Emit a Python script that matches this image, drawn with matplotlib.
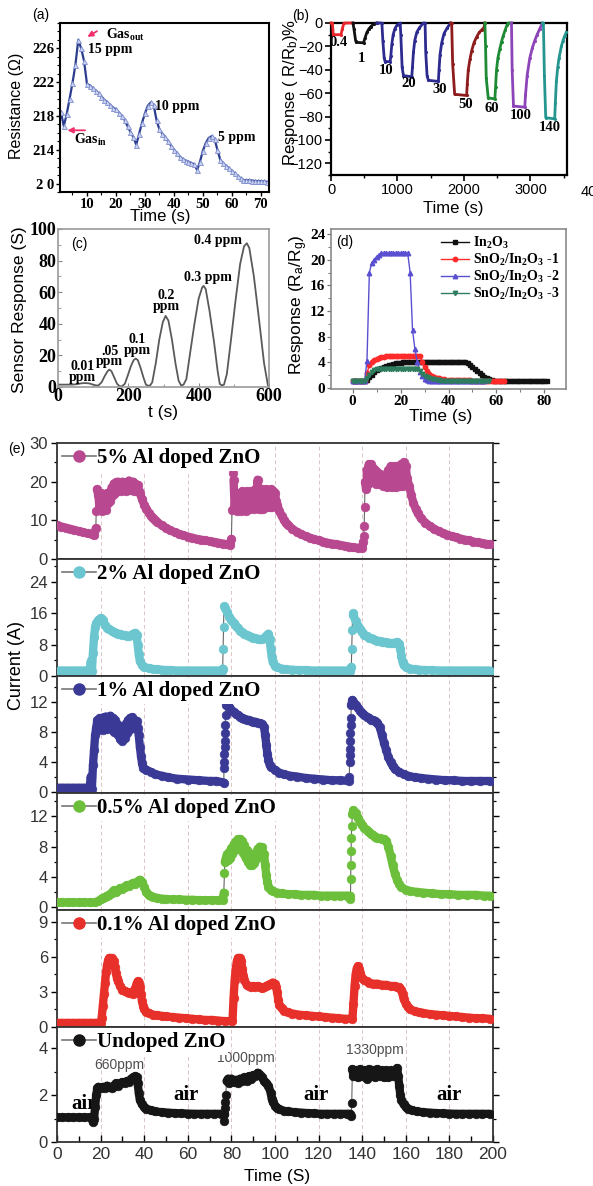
import matplotlib
matplotlib.use('Agg')
import matplotlib.pyplot as plt
import matplotlib.transforms as mtransforms
from matplotlib import font_manager
from matplotlib.lines import Line2D
from matplotlib.ticker import MultipleLocator


# ---------------- (a) resistance trace, 1 s sampling ----------------
A_TIME = list(range(1, 74))
A_RES = [218.5, 216.8, 218.2, 220.0, 221.9, 224.0, 227.0, 226.0, 224.5, 221.8,
         221.6, 221.3, 221.0, 220.7, 220.3, 219.9, 219.6, 219.3, 219.0, 218.8,
         218.4, 218.0, 217.5, 216.8, 216.1, 215.5, 214.6, 215.9, 217.2, 218.3,
         219.2, 219.6, 219.3, 217.5, 216.4, 215.9, 215.5, 215.0, 214.5, 214.0,
         213.6, 213.2, 212.9, 212.7, 212.6, 212.4, 212.3, 211.6, 212.6, 213.9,
         214.8, 215.4, 215.6, 215.3, 214.0, 212.8, 212.4, 212.1, 211.8, 211.5,
         211.2, 210.9, 210.6, 210.4, 210.4, 210.4, 210.35, 210.3, 210.3, 210.3,
         210.25, 210.2, 210.2]

# ---------------- (b) response segments per concentration ----------------
B_RED_T = [0, 20, 35, 150, 170, 195, 330]
B_RED_Y = [0, 0, -10, -10, -5, 0, 0]
B_BLK_T = [330, 345, 370, 380, 490, 510, 540, 570, 600, 640, 690]
B_BLK_Y = [0, -5, -15, -16.5, -17, -13, -8, -5, -3, -1, 0]
B_BLUE_T = [690, 765, 780, 800, 815, 890, 900, 915, 935, 960, 990, 1040,
            1050, 1070, 1090, 1215, 1225, 1240, 1260, 1290, 1330, 1390,
            1415, 1425, 1445, 1465, 1615, 1625, 1640, 1665, 1700, 1750, 1800]
B_BLUE_Y = [0, 0, -15, -30, -33, -33, -28, -18, -10, -5, -2, 0,
            -10, -38, -45, -46, -38, -25, -15, -8, -4, 0,
            0, -25, -45, -49, -50, -40, -27, -17, -9, -4, 0]
B_DRED_T = [1800, 1815, 1830, 1860, 2040, 2050, 2065, 2090, 2115, 2150, 2190,
            2230, 2265, 2300, 2315]
B_DRED_Y = [0, 0, -35, -61, -62, -52, -40, -31, -24, -17, -12, -8, -6, -4, 0]
B_GRN_T = [2315, 2325, 2335, 2365, 2465, 2475, 2490, 2510, 2540, 2565, 2590,
           2620, 2645, 2665, 2715]
B_GRN_Y = [0, -20, -47, -64, -65, -55, -40, -30, -22, -16, -11, -6, -2, 0, 0]
B_PUR_T = [2715, 2725, 2745, 2915, 2925, 2950, 2990, 3030, 3065, 3100, 3140, 3180]
B_PUR_Y = [0, -40, -71, -72, -62, -45, -30, -21, -15, -10, -5, 0]
B_TEAL_T = [3180, 3195, 3210, 3230, 3365, 3375, 3390, 3410, 3430, 3465, 3490,
            3515, 3540]
B_TEAL_Y = [0, 0, -45, -81, -82, -68, -50, -38, -30, -20, -15, -11, -8]
B_CONC = ['0.4', '1', '10', '20', '30', '50', '60', '100', '140']

# ---------------- (c) sensor response ----------------
C_T = [0, 20, 40, 55, 65, 76, 88, 100, 108, 115, 124, 133, 141, 146, 152, 160,
       168, 175, 182, 190, 198, 207, 215, 221, 227, 235, 243, 250, 256, 262,
       268, 278, 288, 298, 306, 314, 324, 334, 343, 350, 357, 365, 376, 388,
       400, 410, 414, 420, 431, 444, 454, 460, 466, 472, 480, 492, 505, 518,
       529, 537, 544, 557, 572, 586, 597]
C_S = [1.5, 1.5, 1.5, 1.8, 2.3, 2.5, 2.3, 1.5, 1.0, 1.0, 3, 7, 10, 11, 10, 6,
       2, 0.5, 0.5, 2, 7, 13, 17, 18, 17, 12, 6, 1.5, 0.8, 1,
       3, 15, 30, 41, 45, 42, 30, 15, 4, 1, 1.5, 5, 22, 40,
       56, 63, 64, 62, 48, 28, 10, 2, 1, 1.5, 8, 30, 55, 78,
       89, 91, 88, 70, 42, 15, 1]

# ---------------- (d) response vs time, 1 s sampling ----------------
D_IN2O3 = ([1.0] * 6 + [1.2, 1.6, 2.0, 2.4, 2.7, 2.9, 3.1, 3.3, 3.4, 3.5, 3.6,
                        3.7, 3.8, 3.85, 3.9, 3.95]
           + [4.0] * 26 + [3.9, 3.6, 3.2, 2.9, 2.6, 2.3, 2.0, 1.7, 1.5, 1.3, 1.15,
                           1.05] + [1.0] * 22)
D_SN1 = ([1.0] * 6 + [2.3, 3.5, 4.0, 4.3, 4.5, 4.65, 4.75, 4.85, 4.9, 4.95]
         + [5.0] * 13 + [4.0, 3.2, 2.6, 2.2, 1.9, 1.7, 1.55, 1.45, 1.35, 1.3, 1.25]
         + [1.2] * 10 + [1.1] * 14)
D_SN2 = ([1.0] * 6 + [4.2, 18.0, 19.5, 20.0, 20.5, 20.8] + [21.0] * 12
         + [18.0, 9.0, 6.0, 4.0, 2.5, 1.8, 1.4, 1.2, 1.1] + [1.0] * 23)
D_SN3 = ([1.0] * 6 + [1.5, 2.0, 2.4, 2.7, 2.85, 2.95] + [3.0] * 16
         + [2.6, 2.2, 1.9, 1.7, 1.5, 1.4, 1.3, 1.2, 1.15, 1.1] + [1.0] * 20)
D_NAMES = ['In$_2$O$_3$', 'SnO$_2$/In$_2$O$_3$ -1', 'SnO$_2$/In$_2$O$_3$ -2',
           'SnO$_2$/In$_2$O$_3$ -3']

# ---------------- (e) current traces, (time s, current A) ----------------
E_AL5 = [
    (0, 8.8), (2, 8.4), (4, 8.1), (6, 7.8), (8, 7.5), (10, 7.2), (12, 6.9),
    (14, 6.6), (16, 6.4), (17, 6.2), (17.8, 7.9), (18, 12.5), (18.3, 18.0),
    (19, 16.5), (19.5, 13.0), (20, 17.0), (20.5, 12.5), (21, 16.8), (21.5, 13.5),
    (22, 15.5), (22.5, 12.8), (23, 17.0), (23.5, 14.5), (24, 16.0), (24.5, 15.0),
    (25, 18.5), (25.5, 16.5), (26, 19.5), (26.5, 17.0), (27, 19.8), (27.5, 17.5),
    (28, 20.0), (28.5, 18.0), (29, 19.5), (29.5, 17.5), (30, 20.0), (30.5, 18.0),
    (31, 19.7), (31.5, 17.5), (32, 19.8), (32.5, 18.0), (33, 20.3), (33.5, 17.8),
    (34, 19.8), (34.5, 18.0), (35, 20.0), (35.5, 17.5), (36, 19.5), (36.5, 17.5),
    (37, 19.2), (37.5, 17.5), (38, 17.0), (39, 15.5), (40, 14.0), (41, 13.0),
    (42, 12.0), (43, 11.2), (44, 10.5), (45, 10.0), (46, 9.5), (48, 8.7),
    (50, 8.0), (52, 7.4), (54, 6.9), (56, 6.5), (58, 6.1), (60, 5.8), (62, 5.5),
    (64, 5.2), (66, 5.0), (68, 4.8), (70, 4.6), (72, 4.4), (74, 4.2), (76, 4.0),
    (78, 3.8), (79.5, 3.6), (80, 5.2), (80.3, 12.8), (80.6, 22.3), (81, 20.5),
    (81.5, 13.0), (82, 17.0), (82.5, 12.5), (83, 16.0), (83.5, 13.0), (84, 15.5),
    (84.5, 12.5), (85, 17.5), (85.5, 13.0), (86, 15.0), (86.5, 12.5), (87, 17.5),
    (87.5, 13.5), (88, 16.0), (88.5, 13.0), (89, 17.5), (89.5, 14.0), (90, 16.0),
    (90.5, 13.0), (91, 18.0), (91.5, 14.5), (92, 20.5), (92.5, 13.0), (93, 16.5),
    (93.5, 13.0), (94, 18.0), (94.5, 13.0), (95, 17.0), (95.5, 13.5), (96, 18.0),
    (96.5, 13.5), (97, 17.5), (97.5, 13.5), (98, 18.0), (98.5, 13.5), (99, 17.5),
    (99.5, 14.0), (100, 17.0), (100.5, 15.0), (101, 14.0), (102, 12.5),
    (103, 11.2), (104, 10.2), (105, 9.4), (106, 8.8), (108, 7.8), (110, 7.0),
    (112, 6.4), (114, 5.9), (116, 5.5), (118, 5.1), (120, 4.8), (122, 4.5),
    (124, 4.2), (126, 4.0), (128, 3.8), (130, 3.6), (132, 3.4), (134, 3.2),
    (136, 3.0), (138, 2.9), (140, 2.8), (140.5, 4.5), (140.7, 6.0), (140.9, 8.5),
    (141.1, 13.5), (141.3, 20.0), (141.8, 18.0), (142, 23.0), (142.5, 19.5),
    (143, 24.5), (143.5, 21.0), (144, 24.5), (144.5, 20.0), (145, 23.5),
    (145.5, 20.0), (146, 23.0), (146.5, 19.5), (147, 22.5), (147.5, 19.5),
    (148, 22.0), (148.5, 19.5), (149, 21.5), (149.5, 19.0), (150, 21.5),
    (150.5, 19.0), (151, 22.0), (151.5, 18.5), (152, 23.0), (152.5, 19.0),
    (153, 24.0), (153.5, 18.5), (154, 23.5), (154.5, 19.0), (155, 24.0),
    (155.5, 18.5), (156, 24.0), (156.5, 19.0), (157, 23.5), (157.5, 19.0),
    (158, 24.5), (158.5, 19.0), (159, 25.0), (159.5, 19.5), (160, 24.0),
    (160.5, 21.0), (161.5, 19.0), (162.5, 16.5), (163.5, 14.5), (164.5, 13.0),
    (165.5, 11.8), (167, 10.5), (169, 9.4), (171, 8.5), (173, 7.8), (175, 7.2),
    (177, 6.7), (179, 6.3), (181, 5.9), (183, 5.6), (185, 5.3), (187, 5.0),
    (189, 4.8), (191, 4.5), (193, 4.3), (195, 4.1), (197, 3.9), (198.5, 3.8)]

E_AL2 = [
    (0, 1.4), (2.5, 1.4), (5, 1.4), (7.5, 1.4), (10, 1.4), (12.5, 1.4),
    (15, 1.5), (15.5, 3.8), (16, 1.3), (16.5, 6.0), (17, 10.0), (17.5, 12.5),
    (18, 13.5), (19, 14.2), (20, 14.8), (21, 14.2), (22, 13.0), (23, 12.3),
    (24, 12.0), (25, 11.6), (26, 11.3), (27, 11.0), (28, 10.8), (29, 10.7),
    (30, 10.5), (31, 10.4), (32, 10.2), (33, 10.2), (34, 10.4), (35, 10.8),
    (36, 11.0), (36.5, 10.5), (37, 8.0), (37.5, 5.5), (38, 3.8), (39, 2.8),
    (40, 2.3), (42, 2.0), (44, 1.8), (46, 1.7), (48, 1.6), (50, 1.5), (52, 1.5),
    (55, 1.4), (58, 1.4), (61, 1.4), (64, 1.4), (67, 1.4), (70, 1.4), (73, 1.4),
    (75.5, 1.4), (76, 1.9), (76.2, 7.0), (76.4, 12.5), (76.6, 18.0), (77, 17.5),
    (78, 16.3), (79, 15.2), (80, 14.3), (81, 13.5), (82, 12.8), (83, 12.2),
    (84, 11.6), (85, 11.2), (86, 10.8), (87, 10.5), (88, 10.2), (89, 10.0),
    (90, 9.8), (91, 9.6), (92, 9.5), (93, 9.4), (94, 9.4), (95, 9.6), (96, 10.3),
    (97, 10.8), (97.5, 9.5), (98, 7.0), (98.5, 4.8), (99, 3.5), (100, 2.6),
    (101, 2.2), (103, 1.9), (105, 1.7), (108, 1.6), (111, 1.5), (114, 1.5),
    (117, 1.4), (120, 1.4), (123, 1.4), (126, 1.4), (129, 1.4), (132, 1.4),
    (134.5, 1.4), (135, 2.3), (135.2, 7.0), (135.4, 11.8), (135.6, 16.0),
    (136, 15.5), (137, 14.0), (138, 12.8), (139, 12.0), (140, 11.2), (141, 10.6),
    (142, 10.2), (143, 9.8), (144, 9.6), (145, 9.4), (146, 9.2), (147, 9.0),
    (148, 8.9), (149, 8.8), (150, 8.7), (151, 8.6), (152, 8.5), (153, 8.4),
    (154, 8.4), (155, 8.5), (156, 8.7), (157, 8.3), (157.5, 7.0), (158, 5.0),
    (158.5, 3.6), (159, 2.8), (160, 2.3), (162, 1.9), (164, 1.7), (166, 1.6),
    (169, 1.5), (172, 1.5), (175, 1.4), (178, 1.4), (181, 1.4), (184, 1.4),
    (187, 1.4), (190, 1.4), (193, 1.4), (196, 1.4), (198.5, 1.4)]

E_AL1 = [
    (0, 0.5), (2.5, 0.5), (5, 0.5), (7.5, 0.5), (10, 0.5), (12.5, 0.5),
    (15, 0.5), (15.5, 2.0), (16, 0.4), (16.5, 3.5), (17, 5.5), (17.5, 7.5),
    (18, 8.5), (18.5, 9.5), (19, 8.2), (19.5, 9.8), (20, 8.3), (20.5, 9.7),
    (21, 8.2), (21.5, 9.9), (22, 8.5), (22.5, 10.0), (23, 8.3), (23.5, 9.8),
    (24, 8.5), (24.5, 10.1), (25, 8.3), (25.5, 9.8), (26, 8.0), (26.5, 9.5),
    (27, 8.0), (27.5, 9.0), (28, 7.5), (28.5, 8.8), (29, 7.0), (29.5, 8.5),
    (30, 6.8), (30.5, 8.5), (31, 7.2), (31.5, 9.0), (32, 7.8), (32.5, 9.5),
    (33, 8.2), (33.5, 9.8), (34, 8.5), (34.5, 9.9), (35, 8.5), (35.5, 9.6),
    (36, 8.8), (36.5, 9.4), (37, 8.5), (37.5, 7.5), (38, 6.0), (38.5, 4.8),
    (39, 3.8), (39.5, 3.2), (41, 2.9), (43, 2.6), (45, 2.3), (48, 2.1),
    (51, 1.9), (55, 1.7), (60, 1.6), (65, 1.5), (70, 1.4), (73, 1.4),
    (76.5, 1.2), (76.6, 3.2), (76.7, 4.0), (76.8, 5.0), (76.9, 6.0), (77.0, 6.8),
    (77.1, 7.8), (77.2, 8.9), (77.3, 10.2), (77.4, 11.5), (77.6, 12.2),
    (78, 12.0), (79, 11.3), (80, 10.9), (81, 10.6), (82, 10.4), (83, 10.2),
    (84, 10.0), (85, 9.8), (86, 9.7), (87, 9.6), (88, 9.5), (89, 9.4),
    (90, 9.3), (91, 9.3), (92, 9.2), (93, 9.1), (94, 9.0), (95, 8.6),
    (95.5, 7.5), (96, 6.2), (96.5, 5.0), (97, 4.2), (97.5, 3.6), (98, 3.3),
    (100, 2.9), (102, 2.5), (104, 2.3), (107, 2.1), (110, 2.0), (114, 1.8),
    (118, 1.7), (122, 1.6), (126, 1.5), (130, 1.5), (134, 1.4),
    (134.1, 2.0), (134.2, 4.0), (134.3, 4.9), (134.4, 5.7), (134.5, 6.8),
    (134.6, 7.8), (134.7, 8.9), (134.8, 9.8), (135, 11.5), (135.5, 12.2),
    (136, 12.0), (137, 11.6), (138, 11.2), (139, 10.8), (140, 10.5),
    (141, 10.2), (142, 10.0), (143, 9.8), (144, 9.6), (145, 9.5), (146, 9.4),
    (147, 9.2), (148, 8.6), (149, 7.6), (150, 6.5), (151, 5.5), (152, 4.6),
    (153, 3.9), (154, 3.4), (155, 3.0), (157, 2.6), (159, 2.3), (161, 2.1),
    (164, 1.9), (167, 1.8), (170, 1.7), (174, 1.6), (178, 1.5), (182, 1.5),
    (186, 1.4), (190, 1.4), (194, 1.4), (198.5, 1.4)]

E_AL05 = [
    (0, 0.6), (2.5, 0.6), (5, 0.6), (7.5, 0.6), (10, 0.6), (12.5, 0.6),
    (15, 0.6), (17.5, 0.6), (19, 0.8), (20, 1.0), (21, 1.2), (22, 1.3),
    (23, 1.5), (24, 1.6), (25, 1.9), (26, 2.2), (27, 2.0), (28, 2.3), (29, 2.5),
    (30, 2.4), (31, 2.7), (32, 2.9), (33, 2.8), (34, 3.0), (35, 3.2), (36, 3.0),
    (37, 3.4), (38, 3.6), (39, 3.3), (40, 2.6), (41, 2.0), (42, 1.6), (43, 1.4),
    (44, 1.3), (46, 1.2), (48, 1.1), (50, 1.05), (53, 1.0), (56, 1.0),
    (59, 0.95), (62, 0.95), (65, 0.9), (68, 0.9), (71, 0.9), (74, 0.9),
    (76, 0.9), (76.5, 1.9), (76.8, 4.5), (77, 6.0), (77.5, 6.5), (78, 7.0),
    (78.5, 6.2), (79, 7.3), (79.5, 6.5), (80, 7.8), (80.5, 7.0), (81, 8.3),
    (81.5, 7.5), (82, 8.7), (82.5, 7.8), (83, 9.0), (83.5, 8.0), (84, 9.0),
    (84.5, 7.8), (85, 8.7), (85.5, 7.2), (86, 8.2), (86.5, 6.5), (87, 7.5),
    (87.5, 6.0), (88, 7.0), (88.5, 5.6), (89, 6.8), (89.5, 5.5), (90, 6.8),
    (90.5, 5.8), (91, 7.2), (91.5, 6.3), (92, 7.7), (92.5, 6.8), (93, 8.0),
    (93.5, 7.2), (94, 7.9), (94.5, 7.0), (95, 7.0), (95.5, 5.5), (96, 4.2),
    (96.5, 3.3), (97, 2.7), (98, 2.3), (99, 2.1), (101, 1.9), (103, 1.8),
    (106, 1.7), (109, 1.7), (112, 1.6), (115, 1.6), (118, 1.6), (121, 1.5),
    (124, 1.5), (127, 1.5), (130, 1.5), (133, 1.5), (134.5, 1.5),
    (134.6, 1.0), (134.7, 3.7), (134.8, 5.6), (134.9, 7.4), (135.0, 9.1),
    (135.2, 10.7), (135.5, 12.3), (136, 12.8), (137, 12.4), (138, 11.8),
    (139, 11.3), (140, 10.9), (141, 10.5), (142, 10.2), (143, 9.9), (144, 9.7),
    (145, 9.5), (146, 9.3), (147, 9.2), (148, 9.1), (149, 9.0), (150, 9.0),
    (151, 8.8), (152, 8.0), (153, 6.8), (154, 5.5), (155, 4.4), (156, 3.6),
    (157, 3.0), (158, 2.6), (160, 2.3), (162, 2.1), (165, 2.0), (168, 1.9),
    (172, 1.8), (176, 1.7), (180, 1.7), (184, 1.6), (188, 1.6), (192, 1.6),
    (196, 1.5), (198.5, 1.5)]

E_AL01 = [
    (0, 0.35), (2.5, 0.35), (5, 0.35), (7.5, 0.35), (10, 0.35), (12.5, 0.35),
    (15, 0.35), (17.5, 0.35), (20, 0.35), (20.5, 0.8), (21, 1.8), (21.5, 2.8),
    (22, 3.8), (22.5, 4.7), (23, 5.3), (23.5, 5.7), (24, 5.9), (25, 5.9),
    (26, 5.6), (26.5, 5.1), (27, 4.6), (27.5, 4.2), (28, 3.9), (29, 3.5),
    (30, 3.2), (31, 3.1), (32, 3.0), (33, 2.9), (34, 3.0), (35, 2.8),
    (35.5, 2.9), (36, 3.3), (36.5, 3.7), (37, 3.9), (37.5, 3.8), (38, 3.4),
    (38.5, 2.8), (39, 2.2), (39.5, 1.8), (40, 1.5), (41, 1.3), (42, 1.2),
    (44, 1.05), (46, 1.0), (48, 0.95), (50, 0.9), (53, 0.85), (56, 0.8),
    (59, 0.75), (62, 0.7), (65, 0.65), (68, 0.6), (71, 0.6), (74, 0.55),
    (77, 0.5), (80.5, 0.5), (81, 2.5), (81.5, 4.0), (82, 5.0), (82.5, 5.6),
    (83, 5.9), (84, 5.9), (84.5, 5.6), (85, 5.0), (85.5, 4.4), (86, 4.0),
    (87, 3.6), (88, 3.5), (89, 3.4), (90, 3.5), (91, 3.4), (92, 3.5), (93, 3.4),
    (94, 3.3), (95, 3.4), (96, 3.5), (97, 3.6), (98, 3.7), (99, 3.8),
    (100, 3.7), (100.5, 3.4), (101, 3.0), (101.5, 2.3), (102, 1.9), (103, 1.6),
    (104, 1.4), (106, 1.25), (108, 1.15), (111, 1.05), (114, 1.0), (117, 0.95),
    (120, 0.9), (123, 0.85), (126, 0.8), (129, 0.75), (132, 0.7), (135.5, 0.7),
    (136, 2.0), (136.5, 3.5), (137, 4.5), (137.5, 5.0), (138, 5.2), (138.5, 5.0),
    (139, 4.6), (140, 4.2), (141, 4.0), (142, 3.9), (143, 3.8), (145, 3.7),
    (147, 3.7), (149, 3.6), (151, 3.6), (153, 3.5), (155, 3.5), (156, 3.4),
    (157, 3.4), (158, 3.2), (158.5, 2.8), (159, 2.4), (160, 2.0), (161, 1.7),
    (162, 1.5), (164, 1.35), (166, 1.25), (168, 1.2), (171, 1.1), (174, 1.05),
    (177, 1.0), (180, 0.95), (183, 0.9), (186, 0.85), (189, 0.8), (192, 0.75),
    (195, 0.75), (198.5, 0.7)]

E_UNDOPED = [
    (0, 1.05), (2.5, 1.05), (5, 1.05), (7.5, 1.05), (10, 1.05), (12.5, 1.05),
    (15, 1.05), (16, 1.0), (16.5, 0.85), (17, 1.0), (17.5, 1.5), (18, 2.0),
    (18.5, 2.3), (19, 2.35), (20, 2.3), (21, 2.35), (22, 2.3), (23, 2.4),
    (24, 2.35), (25, 2.3), (26, 2.4), (27, 2.5), (28, 2.4), (29, 2.5),
    (30, 2.55), (31, 2.5), (32, 2.6), (33, 2.55), (34, 2.7), (35, 2.75),
    (36, 2.8), (36.5, 2.75), (37, 2.5), (37.5, 2.1), (38, 1.8), (39, 1.6),
    (40, 1.5), (41, 1.42), (43, 1.35), (45, 1.3), (48, 1.27), (51, 1.25),
    (54, 1.23), (57, 1.22), (60, 1.21), (63, 1.2), (66, 1.2), (69, 1.2),
    (72, 1.2), (75, 1.2), (76.5, 1.2), (76.6, 0.9), (76.8, 1.2), (77, 1.45),
    (77.2, 1.7), (77.4, 2.0), (77.8, 2.6), (78.5, 2.7), (79, 2.5), (80, 2.7),
    (81, 2.55), (82, 2.65), (83, 2.5), (84, 2.7), (85, 2.6), (86, 2.75),
    (87, 2.6), (88, 2.8), (89, 2.7), (90, 2.85), (91, 2.8), (92, 2.95),
    (93, 2.85), (94, 2.75), (95, 2.6), (96, 2.5), (97, 2.4), (98, 2.1),
    (98.5, 1.85), (99, 1.7), (100, 1.55), (101, 1.45), (102, 1.4), (104, 1.33),
    (106, 1.3), (109, 1.27), (112, 1.25), (115, 1.23), (118, 1.22), (121, 1.2),
    (124, 1.2), (127, 1.2), (130, 1.2), (133, 1.2), (134.5, 1.2), (135, 1.1),
    (135.2, 1.65), (135.5, 3.1), (136, 2.8), (137, 3.05), (138, 2.75),
    (139, 3.1), (140, 2.8), (141, 3.05), (142, 2.7), (143, 3.1), (144, 2.8),
    (145, 3.05), (146, 2.75), (147, 3.1), (148, 2.8), (149, 3.05), (150, 2.75),
    (151, 3.05), (152, 2.75), (153, 3.05), (154, 2.8), (155, 3.0), (156, 3.15),
    (156.5, 2.8), (157, 2.4), (157.5, 2.0), (158, 1.8), (159, 1.6), (160, 1.5),
    (161, 1.42), (163, 1.35), (165, 1.3), (168, 1.27), (171, 1.25), (174, 1.23),
    (177, 1.22), (180, 1.21), (183, 1.2), (186, 1.2), (189, 1.2), (192, 1.2),
    (195, 1.2), (198.5, 1.2)]

E_NAMES = ['5% Al doped ZnO', '2% Al doped ZnO', '1% Al doped ZnO',
           '0.5% Al doped ZnO', '0.1% Al doped ZnO', 'Undoped ZnO']


# ---------------- styling ----------------
W, H = 593, 1186
SANS = 'Liberation Sans'
SERIF = 'Liberation Serif'
_installed = {f.name for f in font_manager.fontManager.ttflist}
NARROW = 'Liberation Sans Narrow' if 'Liberation Sans Narrow' in _installed else SANS

plt.rcParams['font.family'] = SANS
plt.rcParams['mathtext.fontset'] = 'custom'
plt.rcParams['mathtext.rm'] = SERIF
plt.rcParams['mathtext.bf'] = SERIF + ':bold'
plt.rcParams['mathtext.sf'] = SANS
plt.rcParams['mathtext.default'] = 'bf'

BOLD_SERIF = dict(family=SERIF, weight='bold')

fig = plt.figure(figsize=(W / 100, H / 100), dpi=100)


def rect(l, t, r, b):
    return [l / W, 1 - b / H, (r - l) / W, (b - t) / H]


def ftext(x, y, s, **kw):
    fig.text(x / W, 1 - y / H, s, ha=kw.pop('ha', 'center'),
             va=kw.pop('va', 'center'), **kw)


def bold_ticks(ax, xt, yt, size, xl=None, yl=None):
    ax.set_xticks(xt)
    ax.set_xticklabels(xl if xl else [str(v) for v in xt], fontsize=size, **BOLD_SERIF)
    ax.set_yticks(yt)
    ax.set_yticklabels(yl if yl else [str(v) for v in yt], fontsize=size, **BOLD_SERIF)


def band_path(ts, ys, min_dt=0.45):
    # break the thick band where samples are a fast jump (drawn as loose dots)
    tt, yy = [ts[0]], [ys[0]]
    for k in range(1, len(ts)):
        if ts[k] - ts[k - 1] < min_dt:
            tt.append(float('nan'))
            yy.append(float('nan'))
        tt.append(ts[k])
        yy.append(ys[k])
    return tt, yy


# ---------------- (a) ----------------
ax = fig.add_axes(rect(60, 23, 269, 192))
ax.plot(A_TIME, A_RES, '-', color='#2c3d8f', lw=1.6, marker='^', ms=3.6,
        mfc='#cbd3f2', mec='#7d8ccc', mew=0.6)
ax.set_xlim(0.7, 72.8)
ax.set_ylim(209, 229)
bold_ticks(ax, [10, 20, 30, 40, 50, 60, 70], [210, 214, 218, 222, 226], 10.5,
           yl=['2 0', '214', '218', '222', '226'])
ax.xaxis.set_minor_locator(MultipleLocator(5))
ax.yaxis.set_minor_locator(MultipleLocator(1))
ax.tick_params(which='major', direction='out', length=3, width=1, pad=1)
ax.tick_params(which='minor', direction='out', length=2, width=0.8)
for sp in ax.spines.values():
    sp.set_linewidth(1.5)
txt = dict(fontsize=10, va='center', ha='left', **BOLD_SERIF)
ax.text(10.3, 225.9, '15 ppm', **txt)
ax.text(33.6, 219.1, '10 ppm', **txt)
ax.text(55.2, 215.4, '5 ppm', **txt)
ax.text(16.4, 227.6, 'Gas$_{out}$', **txt)
ax.text(5.5, 215.2, 'Gas$_{in}$', **txt)
arrow = dict(arrowstyle='-|>', color='#f0306a', lw=1.3, mutation_scale=8)
ax.annotate('', xy=(9.3, 227.2), xytext=(14.3, 228.2), arrowprops=arrow)
ax.annotate('', xy=(2.3, 216.3), xytext=(10.3, 216.3), arrowprops=arrow)
ftext(41, 15, '(a)', fontsize=10)
ftext(160, 217, 'Time (s)', fontsize=12)
ftext(17, 106, 'Resistance (\u03a9)', fontsize=11.5, rotation=90)

# ---------------- (b) ----------------
ax = fig.add_axes(rect(331, 23, 567, 175))
for ts, ys, col in [(B_RED_T, B_RED_Y, '#e8262b'), (B_BLK_T, B_BLK_Y, '#111111'),
                    (B_BLUE_T, B_BLUE_Y, '#2d2a90'), (B_DRED_T, B_DRED_Y, '#8e1c1c'),
                    (B_GRN_T, B_GRN_Y, '#1e8a34'), (B_PUR_T, B_PUR_Y, '#8c44b8'),
                    (B_TEAL_T, B_TEAL_Y, '#25958f')]:
    ax.plot(ts, ys, '-', color=col, lw=2.0, marker='.', ms=2.5, clip_on=False, zorder=3)
ax.set_xlim(0, 3550)
ax.set_ylim(-130, 0)
ax.set_xticks([0, 1000, 2000, 3000])
ax.set_yticks(list(range(-120, 1, 20)))
ax.xaxis.set_minor_locator(MultipleLocator(500))
ax.yaxis.set_minor_locator(MultipleLocator(10))
ax.tick_params(which='major', direction='out', length=4, width=1.2, labelsize=10.5, pad=2)
ax.tick_params(which='minor', direction='out', length=2.5, width=1)
for sp in ax.spines.values():
    sp.set_linewidth(1.6)
ax.text(4000, -0.065, '4000', fontsize=10.5, ha='center', va='top', clip_on=False,
        transform=mtransforms.blended_transform_factory(ax.transData, ax.transAxes))
lab_t = [115, 465, 830, 1165, 1630, 2025, 2425, 2855, 3290]
lab_y = [-17, -30, -41, -52, -57, -70, -73, -79, -89]
for s, xx, yy in zip(B_CONC, lab_t, lab_y):
    ax.text(xx, yy, s, fontsize=10.5, ha='center', va='center', **BOLD_SERIF)
ftext(301, 16, '(b)', fontsize=10)
ftext(453, 209, 'Time (s)', fontsize=12)
ftext(291, 92, 'Response ( R/R$_\\mathsf{b}$)%', fontsize=12, rotation=90)

# ---------------- (c) ----------------
ax = fig.add_axes(rect(58, 229, 269, 387))
ax.plot(C_T, C_S, '-', color='#5a5a5a', lw=1.3)
ax.set_xlim(0, 600)
ax.set_ylim(0, 100)
bold_ticks(ax, [0, 200, 400, 600], [0, 20, 40, 60, 80, 100], 13)
ax.xaxis.set_minor_locator(MultipleLocator(100))
ax.yaxis.set_minor_locator(MultipleLocator(10))
ax.tick_params(which='major', direction='in', length=3, width=0.8, pad=1, color='#888888')
ax.tick_params(which='minor', direction='in', length=2, width=0.6, color='#888888')
for sp in ax.spines.values():
    sp.set_color('#9a9a9a')
    sp.set_linewidth(1.2)
ctxt = dict(fontsize=10, ha='center', va='center', linespacing=0.75, **BOLD_SERIF)
ax.text(69, 9.5, '0.01\nppm', **ctxt)
ax.text(147, 19.2, '.05\nppm', **ctxt)
ax.text(225, 26.6, '0.1\nppm', **ctxt)
ax.text(308, 54.3, '0.2\nppm', **ctxt)
ax.text(426, 69, '0.3 ppm', **ctxt)
ax.text(456, 93, '0.4 ppm', **ctxt)
ax.text(0.06, 0.95, '(c)', transform=ax.transAxes, fontsize=10, va='top', ha='left')
ftext(163, 413, 't (s)', fontsize=12.5)
ftext(20, 310, 'Sensor Response (S)', fontsize=12.5, rotation=90)

# ---------------- (d) ----------------
ax = fig.add_axes(rect(331, 229, 566, 389))
d_styles = [(D_IN2O3, '#111111', 's'), (D_SN1, '#ff2a2a', 'o'),
            (D_SN2, '#5a4fd0', '^'), (D_SN3, '#2e7d5e', 'v')]
for (vals, col, mk), name in zip(d_styles, D_NAMES):
    ax.plot(range(len(vals)), vals, '-', color=col, lw=1.0, marker=mk, ms=3.2,
            mec=col, mfc=col, label=name)
ax.set_xlim(-9, 89)
ax.set_ylim(-0.2, 24.8)
bold_ticks(ax, [0, 20, 40, 60, 80], [0, 4, 8, 12, 16, 20, 24], 11)
ax.xaxis.set_minor_locator(MultipleLocator(10))
ax.yaxis.set_minor_locator(MultipleLocator(2))
ax.tick_params(which='major', direction='out', length=3, width=0.9, pad=1, color='#777777')
ax.tick_params(which='minor', direction='out', length=2, width=0.7, color='#777777')
for sp in ax.spines.values():
    sp.set_color('#8a8a8a')
    sp.set_linewidth(1.2)
ax.legend(loc='upper right', frameon=False, handlelength=2.0, handletextpad=0.3,
          labelspacing=0.05, borderaxespad=0.25, borderpad=0.2,
          prop=dict(family=SERIF, weight='bold', size=10))
ax.text(0.02, 0.96, '(d)', transform=ax.transAxes, fontsize=10, va='top', ha='left')
ftext(441, 416, 'Time (s)', fontsize=12.5)
ftext(299, 305, 'Response (R$_\\mathsf{a}$/R$_\\mathsf{g}$)', fontsize=12.5, rotation=90)

# ---------------- (e) ----------------
e_bounds = [443, 559, 676, 793, 910, 1027, 1142]
e_series = [E_AL5, E_AL2, E_AL1, E_AL05, E_AL01, E_UNDOPED]
e_colors = ['#b8488f', '#6cc6d0', '#3a3a96', '#6cbf3a', '#e8302b', '#161616']
e_ylims = [(0, 30), (0, 29.9), (-0.2, 15.4), (-0.4, 15.1), (0, 10), (0, 4.9)]
e_yticks = [[0, 10, 20, 30], [0, 8, 16, 24], [0, 4, 8, 12], [0, 4, 8, 12],
            [0, 3, 6, 9], [0, 2, 4]]

for i, (pts, col, name) in enumerate(zip(e_series, e_colors, E_NAMES)):
    ax = fig.add_axes(rect(57, e_bounds[i], 493, e_bounds[i + 1]))
    ts = [p[0] for p in pts]
    ys = [p[1] for p in pts]
    ax.plot(ts, ys, '-', color='#666666', lw=0.8, zorder=2)
    bt, by = band_path(ts, ys)
    ax.plot(bt, by, '-', color=col, lw=6.0, solid_capstyle='round',
            solid_joinstyle='round', zorder=2.5)
    ax.plot(ts, ys, 'o', color=col, ms=6.3, mec=col, mew=0.4, zorder=3)
    ax.set_xlim(0, 200)
    ax.set_ylim(*e_ylims[i])
    ax.set_xticks(list(range(0, 201, 20)))
    ax.set_yticks(e_yticks[i])
    step = e_yticks[i][1] - e_yticks[i][0]
    ax.yaxis.set_minor_locator(MultipleLocator(step / 2))
    ax.set_axisbelow(True)
    ax.grid(axis='x', which='major', color='#dcc4c4', ls=(0, (4, 3)), lw=0.7)
    ax.tick_params(axis='y', which='both', direction='out', left=True, right=True,
                   labelsize=12, labelfontfamily=NARROW, labelcolor='#333333', pad=2)
    ax.tick_params(axis='y', which='major', length=4.5, width=1)
    ax.tick_params(axis='y', which='minor', length=2.5, width=0.9)
    if i < 5:
        ax.tick_params(axis='x', which='both', bottom=False, labelbottom=False)
    else:
        ax.xaxis.set_minor_locator(MultipleLocator(10))
        ax.tick_params(axis='x', which='both', direction='in', top=False,
                       labelsize=12.5, labelfontfamily=NARROW, labelcolor='#333333')
        ax.tick_params(axis='x', which='major', length=5, width=1)
        ax.tick_params(axis='x', which='minor', length=4, width=1)
    for sp in ax.spines.values():
        sp.set_color('#333333')
        sp.set_linewidth(1.3)
    handle = Line2D([], [], color='#777777', lw=1.2, marker='o', ms=8, mfc=col, mec=col)
    leg = ax.legend([handle], [name], loc='upper left', bbox_to_anchor=(0, 1),
                    borderaxespad=0.1, borderpad=0.15, handlelength=1.6,
                    handletextpad=0.05, frameon=True, fancybox=False, framealpha=1,
                    prop=dict(family=SERIF, weight='bold', size=15))
    leg.get_frame().set_edgecolor('none')
    leg.get_frame().set_facecolor('white')
    leg.set_zorder(6)
    if i == 5:
        air = dict(fontsize=15, ha='center', va='center', zorder=1, **BOLD_SERIF)
        for xx, yy in [(12.5, 1.64), (59.4, 2.0), (119, 2.0), (180, 2.0)]:
            ax.text(xx, yy, 'air', **air)
        ppm = dict(fontsize=10, ha='center', va='center', color='#505050',
                   family=NARROW, zorder=4)
        ax.text(28.8, 3.3, '660ppm', **ppm)
        ax.text(86.7, 3.6, '1000ppm', **ppm)
        ax.text(146, 3.9, '1330ppm', **ppm)

ftext(17, 449, '(e)', fontsize=10)
ftext(17, 666, 'Current (A)', fontsize=13, rotation=90)
ftext(277, 1177, 'Time (S)', fontsize=12.5)

fig.savefig('out.png', dpi=100)
